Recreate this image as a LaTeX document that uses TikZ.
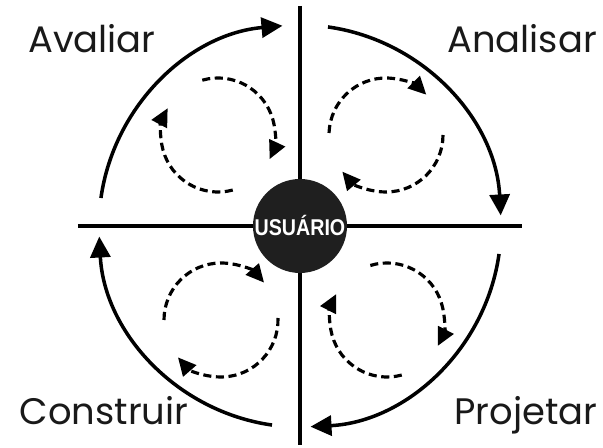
\documentclass[tikz,border=0pt]{standalone}
\usepackage{fontspec}
\setmainfont{Poppins}
\newfontfamily\userfont[FakeStretch=0.86]{Liberation Sans}
\usetikzlibrary{arrows.meta}

\begin{document}
\begin{tikzpicture}[
  x=0.02cm,y=0.02cm,
  axis/.style={line width=1.9pt},
  cycle/.style={line width=2pt,-{Triangle[length=0.42cm,width=0.4cm]}},
  loop/.style={line width=1.8pt,dash pattern=on 4.6pt off 2.6pt,-{Triangle[length=0.36cm,width=0.34cm]}},
  phase/.style={font=\fontsize{21}{25}\selectfont,anchor=base,text=black!90},
  user/.style={circle,fill=black!88,minimum size=1.88cm,inner sep=0pt,text=white,font=\userfont\bfseries\fontsize{13}{14}\selectfont}
]
  \useasboundingbox (-300,-222) rectangle (303,226);

  \coordinate (north) at (0,220);
  \coordinate (south) at (0,-219);
  \coordinate (west) at (-222,0);
  \coordinate (east) at (222,0);
  \draw[axis] (north) -- (south);
  \draw[axis] (west) -- (east);

  \node[user] (usuario) at (0,0) {USUÁRIO};

  % outer cycle
  \draw[cycle] (usuario.center) ++(172:201) arc[start angle=172,end angle=95,radius=201];
  \draw[cycle] (usuario.center) ++(82:201) arc[start angle=82,end angle=3,radius=201];
  \draw[cycle] (usuario.center) ++(-8:201) arc[start angle=-8,end angle=-87,radius=201];
  \draw[cycle] (usuario.center) ++(-98:201) arc[start angle=-98,end angle=-177,radius=201];

  % inner loops
  \coordinate (avaliar-loop) at (-82,91);
  \coordinate (analisar-loop) at (86,91);
  \coordinate (construir-loop) at (-79,-94);
  \coordinate (projetar-loop) at (87,-94);
  \draw[loop] (avaliar-loop) ++(106:57) arc[start angle=106,end angle=-25,radius=57];
  \draw[loop] (avaliar-loop) ++(-75:57) arc[start angle=-75,end angle=-208,radius=57];
  \draw[loop] (analisar-loop) ++(178:57) arc[start angle=178,end angle=45,radius=57];
  \draw[loop] (analisar-loop) ++(0:57) arc[start angle=0,end angle=-140,radius=57];
  \draw[loop] (construir-loop) ++(180:57) arc[start angle=180,end angle=41,radius=57];
  \draw[loop] (construir-loop) ++(2:57) arc[start angle=2,end angle=-139,radius=57];
  \draw[loop] (projetar-loop) ++(107:57) arc[start angle=107,end angle=-27,radius=57];
  \draw[loop] (projetar-loop) ++(-75:57) arc[start angle=-75,end angle=-207,radius=57];

  \node[phase] (avaliar) at (-208,173) {Avaliar};
  \node[phase] (analisar) at (222,173) {Analisar};
  \node[phase] (construir) at (-196,-199) {Construir};
  \node[phase] (projetar) at (226,-199) {Projetar};
\end{tikzpicture}
\end{document}
